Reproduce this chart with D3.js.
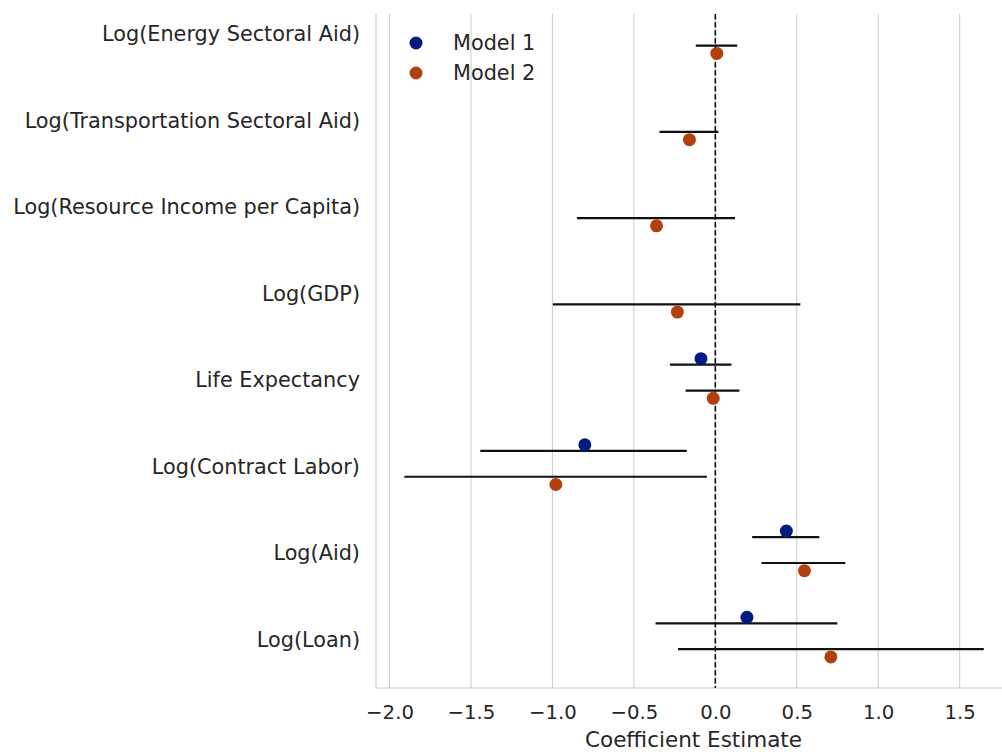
<!DOCTYPE html>
<html>
<head>
<meta charset="utf-8">
<script src="https://cdn.jsdelivr.net/npm/d3@7"></script>
<style>
  html, body { margin: 0; padding: 0; background: #fff; }
  svg { display: block; font-family: "DejaVu Sans", sans-serif; }
</style>
</head>
<body>
<svg id="chart" width="1002" height="752"></svg>
<script>
const categories = [
  "Log(Energy Sectoral Aid)",
  "Log(Transportation Sectoral Aid)",
  "Log(Resource Income per Capita)",
  "Log(GDP)",
  "Life Expectancy",
  "Log(Contract Labor)",
  "Log(Aid)",
  "Log(Loan)"
];
// Model 1 (only last four variables)
const model1Est = [null, null, null, null, -0.088, -0.801, 0.436, 0.194];
const model1Lo  = [null, null, null, null, -0.279, -1.443, 0.226, -0.367];
const model1Hi  = [null, null, null, null, 0.099, -0.175, 0.638, 0.749];
// Model 2
const model2Est = [0.009, -0.159, -0.361, -0.233, -0.013, -0.979, 0.547, 0.709];
const model2Lo  = [-0.120, -0.343, -0.850, -0.997, -0.183, -1.909, 0.283, -0.229];
const model2Hi  = [0.134, 0.019, 0.121, 0.522, 0.148, -0.052, 0.798, 1.648];
const seriesNames = ["Model 1", "Model 2"];
const xTicks = [-2.0, -1.5, -1.0, -0.5, 0.0, 0.5, 1.0, 1.5];

const colors = ["#001c7f", "#b1400d"];
const textColor = "#262626";

const svg = d3.select("#chart");
const L = 376, R = 1011, T = 14, B = 688;

const x = d3.scaleLinear().domain([-2.083, 1.815]).range([L, R]);
const y = d3.scaleLinear().domain([-0.217, 7.6]).range([T, B]);

// grid lines
svg.append("g").selectAll("line").data(xTicks).join("line")
  .attr("x1", d => x(d)).attr("x2", d => x(d))
  .attr("y1", T).attr("y2", B)
  .attr("stroke", "#cccccc").attr("stroke-width", 1);

// left & bottom spines
svg.append("line").attr("x1", L).attr("x2", L).attr("y1", T).attr("y2", B)
  .attr("stroke", "#cccccc").attr("stroke-width", 1.2);
svg.append("line").attr("x1", L).attr("x2", R).attr("y1", B).attr("y2", B)
  .attr("stroke", "#cccccc").attr("stroke-width", 1.2);

// x axis labels
const xAxis = d3.axisBottom(x).tickValues(xTicks).tickSize(0).tickPadding(0)
  .tickFormat(d => d3.format(".1f")(d).replace("-", "\u2212"));
const gx = svg.append("g").attr("transform", `translate(0,${B})`).call(xAxis);
gx.select(".domain").remove();
gx.selectAll("text").attr("dy", null).attr("y", 31)
  .attr("fill", textColor).style("font-size", "19.7px").style("font-family", "DejaVu Sans");

svg.append("text").attr("x", (L + R) / 2).attr("y", 747)
  .attr("text-anchor", "middle").attr("fill", textColor)
  .style("font-size", "21.5px").text("Coefficient Estimate");

// y labels
const yl = d3.scaleLinear().domain([0, 7]).range([y(0) + 1.5, y(7) + 3]);
svg.append("g").selectAll("text").data(categories).join("text")
  .attr("x", 360).attr("y", (d, i) => yl(i)).attr("dy", "0.35em")
  .attr("text-anchor", "end").attr("fill", textColor)
  .style("font-size", "20.8px").text(d => d);

// zero reference line
svg.append("line").attr("x1", x(0)).attr("x2", x(0)).attr("y1", T).attr("y2", B)
  .attr("stroke", "#000").attr("stroke-width", 1.5).attr("stroke-dasharray", "5.5,2.5");

// data
const series = [
  { est: model1Est, lo: model1Lo, hi: model1Hi, barOff: -0.15, ptOff: -0.22 },
  { est: model2Est, lo: model2Lo, hi: model2Hi, barOff: 0.15, ptOff: 0.24 }
];

series.forEach((s, k) => {
  const idx = categories.map((c, i) => i).filter(i => s.est[i] !== null);
  svg.append("g").selectAll("line").data(idx).join("line")
    .attr("x1", i => x(s.lo[i])).attr("x2", i => x(s.hi[i]))
    .attr("y1", i => y(i + s.barOff)).attr("y2", i => y(i + s.barOff))
    .attr("stroke", "#111").attr("stroke-width", 2.2);
  svg.append("g").selectAll("circle").data(idx).join("circle")
    .attr("cx", i => x(s.est[i])).attr("cy", i => y(i + s.ptOff))
    .attr("r", 6.5).attr("fill", colors[k]);
});

// legend
const lg = svg.append("g");
seriesNames.forEach((n, k) => {
  const yy = 43 + k * 30;
  lg.append("circle").attr("cx", 416).attr("cy", yy).attr("r", 6.5).attr("fill", colors[k]);
  lg.append("text").attr("x", 453).attr("y", yy).attr("dy", "0.35em")
    .attr("fill", textColor).style("font-size", "20.8px").text(n);
});
</script>
</body>
</html>
